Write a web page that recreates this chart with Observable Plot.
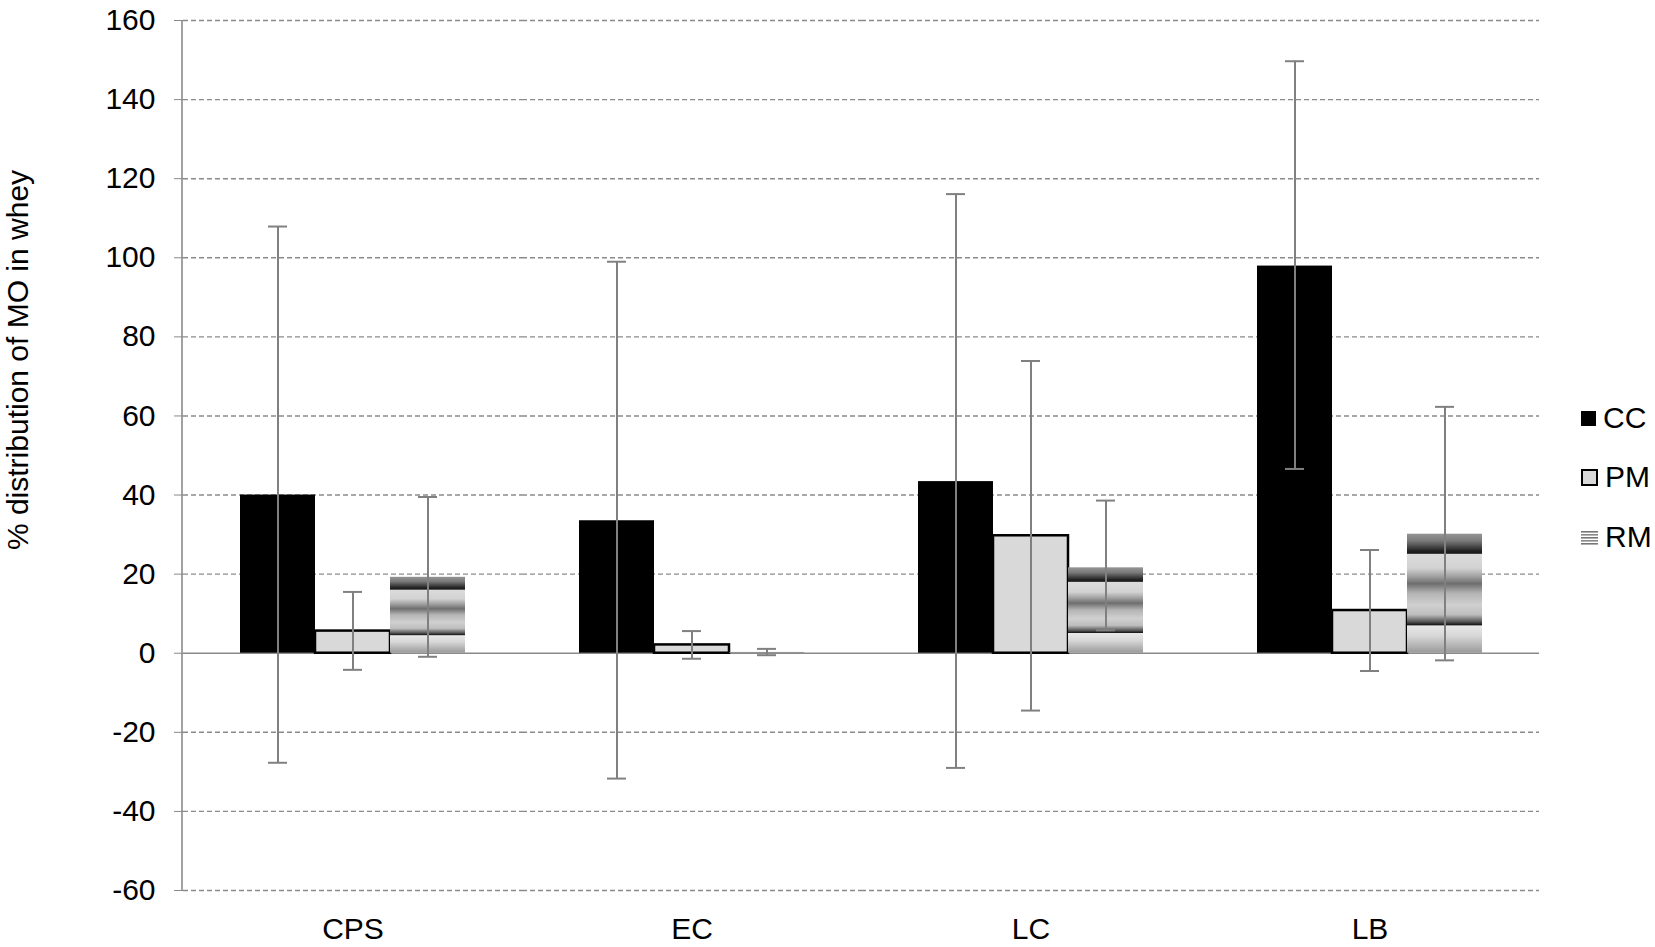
<!DOCTYPE html>
<html>
<head>
<meta charset="utf-8">
<script src="https://cdn.jsdelivr.net/npm/d3@7"></script>
<script src="https://cdn.jsdelivr.net/npm/@observablehq/plot@0.6"></script>
<style>
  body { margin: 0; background: #fff; font-family: "Liberation Sans", Arial, sans-serif; }
  #wrap { position: relative; width: 1655px; height: 947px; overflow: hidden; }
  #ylabel { position: absolute; left: 18px; top: 360px; transform: translate(-50%, -50%) rotate(-90deg);
            font-size: 30px; white-space: nowrap; color: #000; }
  .leg { position: absolute; left: 1581px; display: flex; align-items: center; height: 36px; font-size: 30px; color: #000; }
  .leg svg { margin-right: 7px; }
</style>
</head>
<body>
<svg width="0" height="0" style="position:absolute">
  <defs>
    <linearGradient id="rmGrad" x1="0" y1="0" x2="0" y2="1">
      <stop offset="0" stop-color="#959595"/>
      <stop offset="0.06" stop-color="#7a7a7a"/>
      <stop offset="0.145" stop-color="#222"/>
      <stop offset="0.165" stop-color="#1a1a1a"/>
      <stop offset="0.172" stop-color="#dcdcdc"/>
      <stop offset="0.29" stop-color="#d2d2d2"/>
      <stop offset="0.36" stop-color="#a0a0a0"/>
      <stop offset="0.42" stop-color="#6e6e6e"/>
      <stop offset="0.5" stop-color="#b4b4b4"/>
      <stop offset="0.6" stop-color="#d0d0d0"/>
      <stop offset="0.68" stop-color="#bdbdbd"/>
      <stop offset="0.74" stop-color="#555"/>
      <stop offset="0.765" stop-color="#181818"/>
      <stop offset="0.775" stop-color="#e8e8e8"/>
      <stop offset="0.86" stop-color="#d6d6d6"/>
      <stop offset="1" stop-color="#9a9a9a"/>
    </linearGradient>
  </defs>
</svg>
<div id="wrap">
  <div id="chart"></div>
  <div id="ylabel">% distribution of MO in whey</div>
  <div class="leg" style="top:400px">
    <svg width="15" height="15"><rect x="0" y="0" width="15" height="15" fill="#000"/></svg><span>CC</span>
  </div>
  <div class="leg" style="top:459px">
    <svg width="17" height="17"><rect x="1" y="1" width="15" height="15" fill="#d9d9d9" stroke="#000" stroke-width="2"/></svg><span>PM</span>
  </div>
  <div class="leg" style="top:519px">
    <svg width="17" height="15">
      <rect x="0" y="1" width="17" height="1.6" fill="#777"/>
      <rect x="0" y="4" width="17" height="1.6" fill="#888"/>
      <rect x="0" y="7" width="17" height="1.6" fill="#777"/>
      <rect x="0" y="10" width="17" height="1.6" fill="#888"/>
      <rect x="0" y="13" width="17" height="1.6" fill="#777"/>
    </svg><span>RM</span>
  </div>
</div>
<script>
const categories = ["CPS", "EC", "LC", "LB"];
const series = ["CC", "PM", "RM"];
const ccMean = [40.0, 33.5, 43.4, 97.9];
const ccLow  = [-27.7, -31.7, -29.0, 46.6];
const ccHigh = [107.9, 99.0, 116.1, 149.7];
const pmMean = [5.6, 2.1, 29.7, 10.8];
const pmLow  = [-4.2, -1.4, -14.5, -4.5];
const pmHigh = [15.5, 5.6, 73.9, 26.1];
const rmMean = [19.2, 0.2, 21.6, 30.1];
const rmLow  = [-0.9, -0.5, 5.8, -1.8];
const rmHigh = [39.5, 1.1, 38.6, 62.3];
const yTicks = [-60, -40, -20, 0, 20, 40, 60, 80, 100, 120, 140, 160];

const seriesData = {CC: [ccMean, ccLow, ccHigh], PM: [pmMean, pmLow, pmHigh], RM: [rmMean, rmLow, rmHigh]};
const rows = [];
categories.forEach((c, i) => {
  series.forEach(s => {
    const [m, lo, hi] = seriesData[s];
    rows.push({cat: c, s, v: m[i], lo: lo[i], hi: hi[i]});
  });
});

const gray = "#8a8a8a";
const errGray = "#808080";
const font = '"Liberation Sans", Arial, sans-serif';

const chart = Plot.plot({
  width: 1655,
  height: 947,
  marginTop: 20,
  marginBottom: 57,
  marginLeft: 182,
  marginRight: 115,
  style: {fontFamily: font, fontSize: "30px", color: "#000", background: "#fff", overflow: "visible"},
  fx: {domain: categories, padding: 0, label: null},
  x: {domain: series, paddingInner: 0, paddingOuter: 0.75, axis: null},
  y: {domain: [-60, 160], axis: null},
  marks: [
    Plot.gridY(yTicks.filter(d => d !== 0), {stroke: gray, strokeOpacity: 1, strokeWidth: 1.4, strokeDasharray: "5,3"}),
    Plot.ruleY([0], {stroke: gray, strokeWidth: 1.6}),
    Plot.barY(rows.filter(d => d.s === "CC"), {fx: "cat", x: "s", y: "v", fill: "#000"}),
    Plot.barY(rows.filter(d => d.s === "PM"), {fx: "cat", x: "s", y: "v", fill: "#d9d9d9", stroke: "#000", strokeWidth: 2.5}),
    Plot.barY(rows.filter(d => d.s === "RM"), {fx: "cat", x: "s", y: "v", fill: "url(#rmGrad)"}),
    Plot.ruleX(rows, {fx: "cat", x: "s", y1: "lo", y2: "hi", stroke: errGray, strokeWidth: 2}),
    Plot.tickY(rows, {fx: "cat", x: "s", y: "hi", stroke: errGray, strokeWidth: 2, insetLeft: 28, insetRight: 28}),
    Plot.tickY(rows, {fx: "cat", x: "s", y: "lo", stroke: errGray, strokeWidth: 2, insetLeft: 28, insetRight: 28}),
    Plot.axisY({ticks: yTicks, tickSize: 9, tickPadding: 19, stroke: gray, fill: "#000", fontSize: 30,
                tickFormat: d => String(d), label: null}),
    Plot.axisFx({anchor: "bottom", tickSize: 0, tickPadding: 27, fontSize: 30, label: null, fill: "#000"})
  ]
});

// y-axis domain line drawn with the chart's own y scale
const ys = chart.scale("y");
d3.select(chart).append("line")
  .attr("x1", 182).attr("x2", 182)
  .attr("y1", ys.apply(160)).attr("y2", ys.apply(-60))
  .attr("stroke", gray).attr("stroke-width", 1.6);

document.getElementById("chart").appendChild(chart);
</script>
</body>
</html>
